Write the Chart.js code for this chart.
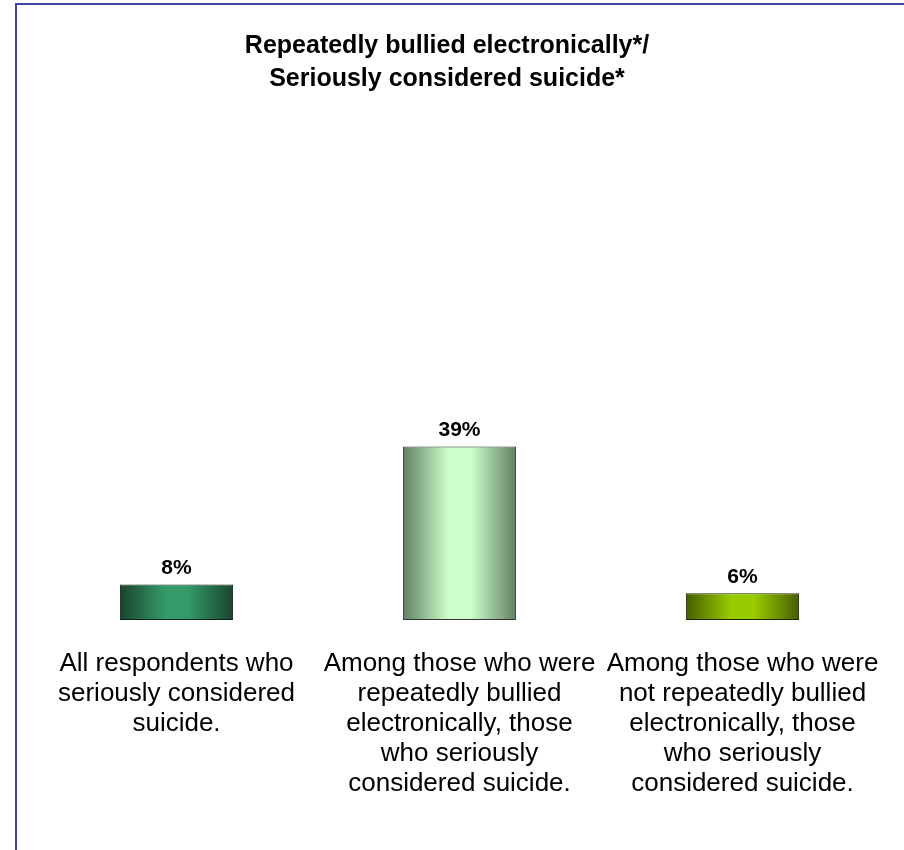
<!DOCTYPE html>
<html>
<head>
<meta charset="utf-8">
<script src="https://cdn.jsdelivr.net/npm/chart.js@4"></script>
<style>
  html, body { margin: 0; padding: 0; background: #fff; }
  #wrap { position: relative; width: 904px; height: 850px; }
  #frame {
    position: absolute; left: 15px; top: 3px; right: 0; bottom: 0;
    border-top: 2px solid #4343a8; border-left: 2px solid #4343a8;
    pointer-events: none;
  }
</style>
</head>
<body>
<div id="wrap">
  <canvas id="chart" width="904" height="850"></canvas>
  <div id="frame"></div>
</div>
<script>
// Datos del gráfico
const titleLines = ["Repeatedly bullied electronically*/", "Seriously considered suicide*"];
const categories = [
    ["All respondents who", "seriously considered", "suicide."],
    ["Among those who were", "repeatedly bullied", "electronically, those", "who seriously", "considered suicide."],
    ["Among those who were", "not repeatedly bullied", "electronically, those", "who seriously", "considered suicide."]
];
const values = [8, 39, 6];

// Colores de cada barra: borde oscuro, centro claro
const edgeColors = ["#1a4430", "#627f62", "#465e00"];
const midColors = ["#349a68", "#ccffcc", "#99cc00"];
const borderColors = ["#0b2416", "#2e362e", "#1f2900"];

const fontFamily = "'Liberation Sans', Arial, sans-serif";

// Degradado horizontal para cada barra
function barGradient(ctx) {
    const chart = ctx.chart;
    const i = ctx.dataIndex;
    const xs = chart.scales.x;
    if (!chart.chartArea || !xs) return midColors[i];
    const cx = xs.getPixelForValue(i);
    const half = (xs.width / categories.length) * 0.4 / 2;
    const g = chart.ctx.createLinearGradient(cx - half, 0, cx + half, 0);
    g.addColorStop(0, edgeColors[i]);
    g.addColorStop(0.4, midColors[i]);
    g.addColorStop(0.6, midColors[i]);
    g.addColorStop(1, edgeColors[i]);
    return g;
}

// Título centrado en la página (no en el área del gráfico)
const pageTitle = {
    id: "pageTitle",
    afterDraw(chart) {
        const c = chart.ctx;
        c.save();
        c.font = "bold 25px " + fontFamily;
        c.fillStyle = "#000";
        c.textAlign = "center";
        c.textBaseline = "middle";
        titleLines.forEach((line, i) => c.fillText(line, 447, 46 + i * 33));
        c.restore();
    }
};

// Etiquetas de valor encima de las barras
const valueLabels = {
    id: "valueLabels",
    afterDatasetsDraw(chart) {
        const c = chart.ctx;
        const meta = chart.getDatasetMeta(0);
        c.save();
        c.font = "bold 21px " + fontFamily;
        c.fillStyle = "#000";
        c.textAlign = "center";
        c.textBaseline = "middle";
        meta.data.forEach((bar, i) => {
            c.fillText(values[i] + "%", bar.x, bar.y - 16);
        });
        c.restore();
    }
};

new Chart(document.getElementById("chart"), {
    type: "bar",
    data: {
        labels: categories,
        datasets: [{
            data: values,
            backgroundColor: barGradient,
            borderColor: borderColors,
            borderWidth: 1,
            borderSkipped: false,
            barPercentage: 0.4,
            categoryPercentage: 1
        }]
    },
    options: {
        responsive: false,
        animation: false,
        layout: { padding: { left: 35, right: 20, top: 175, bottom: 30 } },
        plugins: {
            legend: { display: false },
            tooltip: { enabled: false },
            title: { display: false }
        },
        scales: {
            x: {
                grid: { display: false },
                border: { display: false },
                ticks: {
                    color: "#000",
                    padding: 21,
                    maxRotation: 0,
                    autoSkip: false,
                    font: { family: fontFamily, size: 26, lineHeight: 1.154 }
                }
            },
            y: {
                display: false,
                min: 0,
                max: 100
            }
        }
    },
    plugins: [valueLabels, pageTitle]
});
</script>
</body>
</html>
